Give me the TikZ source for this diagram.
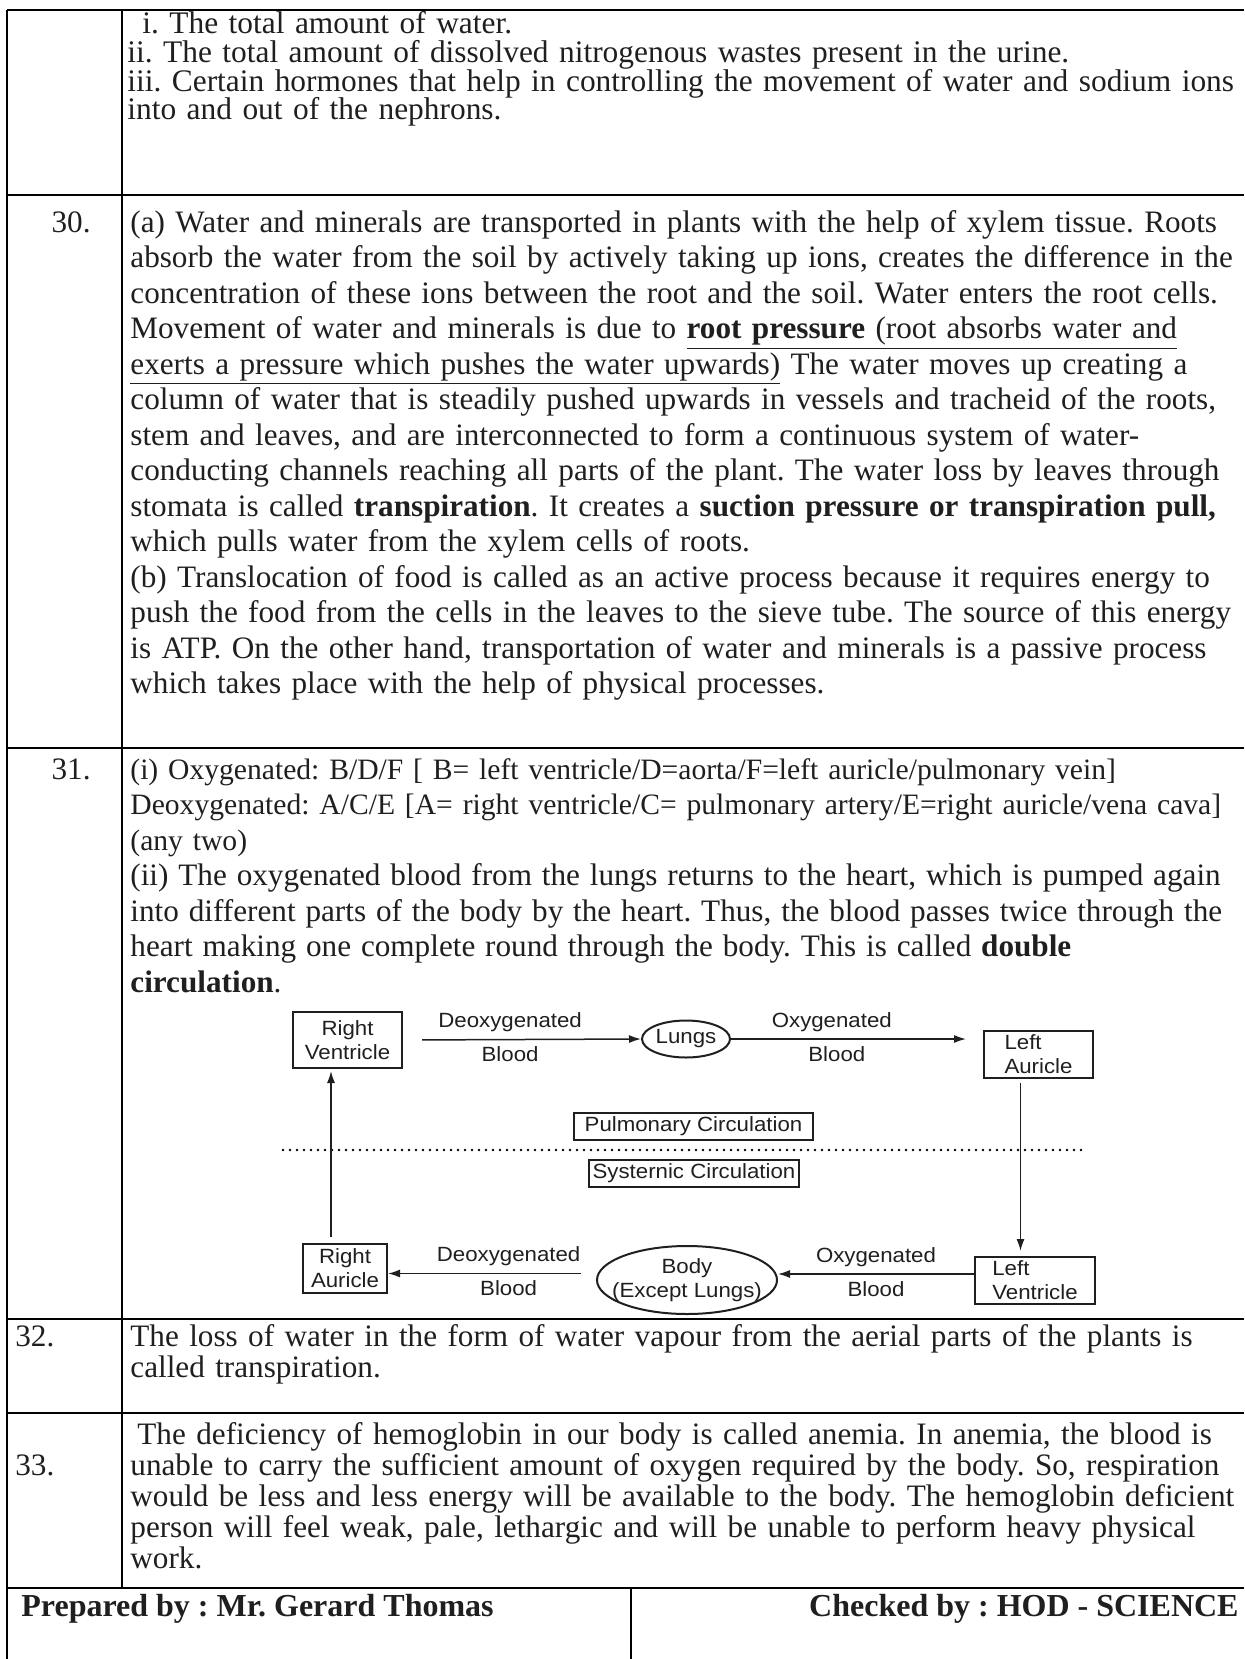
\documentclass[tikz,border=0pt]{standalone}
\usepackage{fontspec}
\setmainfont{Liberation Serif}
\newfontfamily\diagfont[FakeStretch=1.08]{Liberation Sans}
\usepackage{tikz}
\usetikzlibrary{shapes.geometric, arrows.meta, positioning}
\definecolor{InkGray}{HTML}{1F1F1F}

\begin{document}
\frenchspacing
\begin{tikzpicture}[x=0.5pt, y=-0.5pt,
    every node/.style={text=InkGray},
    para/.style={anchor=base west, inner sep=0pt, text width=600pt, align=left},
    qnum/.style={inner sep=0pt, font={\fontsize{15.6}{18}\selectfont}},
    hrule/.style={line width=1.3pt},
    vrule/.style={line width=1pt},
    box/.style={draw=InkGray, line width=1pt, inner sep=0pt, align=center,
                font={\diagfont\fontsize{10.3}{12}\selectfont}},
    tag/.style={font={\diagfont\fontsize{10.3}{12}\selectfont}},
    arr/.style={draw=InkGray, line width=0.75pt, -{Latex[length=6pt,width=4pt]}}]
    \useasboundingbox (0,0) rectangle (1244,1659);

    % table rules
    \draw[hrule] (7,10) -- (1244,10);
    \draw[hrule] (7,195) -- (1244,195);
    \draw[hrule] (7,748) -- (1244,748);
    \draw[hrule] (7,1319) -- (1244,1319);
    \draw[hrule] (7,1413) -- (1244,1413);
    \draw[hrule] (7,1588) -- (1244,1588);
    \draw[vrule] (7,10) -- (7,1659);
    \draw[vrule] (122,10) -- (122,1588);
    \draw[vrule] (631,1588) -- (631,1659);

    % row 29 (continued)
    \node[para, font={\fontsize{15.7}{14.3}\selectfont\lineskiplimit=-100pt\lineskip=0pt}] (ansA) at (127,34) {
        \hspace*{7.5pt}i. The total amount of water.\\
        ii. The total amount of dissolved nitrogenous wastes present in the urine.\\
        iii. Certain hormones that help in controlling the movement of water and sodium ions\\
        into and out of the nephrons.};

    % row 30
    \node[qnum, anchor=base east] (numB) at (91,232) {30.};
    \node[para, font={\fontsize{15.6}{17.75}\selectfont}] (ansB) at (130,232) {
        (a) Water and minerals are transported in plants with the help of xylem tissue. Roots\\
        absorb the water from the soil by actively taking up ions, creates the difference in the\\
        concentration of these ions between the root and the soil. Water enters the root cells.\\
        Movement of water and minerals is due to \underline{\textbf{root pressure} (root absorbs water and}\\
        \underline{exerts a pressure which pushes the water upwards)} The water moves up creating a\\
        column of water that is steadily pushed upwards in vessels and tracheid of the roots,\\
        stem and leaves, and are interconnected to form a continuous system of water-\\
        conducting channels reaching all parts of the plant. The water loss by leaves through\\
        stomata is called \textbf{transpiration}. It creates a \textbf{suction pressure or transpiration pull,}\\
        which pulls water from the xylem cells of roots.\\
        (b) Translocation of food is called as an active process because it requires energy to\\
        push the food from the cells in the leaves to the sieve tube. The source of this energy\\
        is ATP. On the other hand, transportation of water and minerals is a passive process\\
        which takes place with the help of physical processes.};

    % row 31
    \node[qnum, anchor=base east] (numC) at (91,779) {31.};
    \node[para, font={\fontsize{14.8}{17.75}\selectfont}] (ansC) at (130,779) {
        (i) Oxygenated: B/D/F [ B= left ventricle/D=aorta/F=left auricle/pulmonary vein]\\
        Deoxygenated: A/C/E [A= right ventricle/C= pulmonary artery/E=right auricle/vena cava]\\
        (any two)\\
        \fontsize{15.6}{17.75}\selectfont
        (ii) The oxygenated blood from the lungs returns to the heart, which is pumped again\\
        into different parts of the body by the heart. Thus, the blood passes twice through the\\
        heart making one complete round through the body. This is called \textbf{double}\\
        \textbf{circulation}.};

    % circulation chart
    \node[box, minimum width=54.5pt, minimum height=28pt] (rv) at (347.5,1040) {Right\\Ventricle};
    \node[box, ellipse, minimum width=44pt, minimum height=18.5pt] (lungs) at (686,1039) {Lungs};
    \node[box, minimum width=54.5pt, minimum height=23.5pt, align=left] (la) at (1038.5,1054.5) {Left\\Auricle};
    \node[box, minimum width=119.5pt, minimum height=13.5pt] (pulm) at (693.5,1126.5) {Pulmonary Circulation};
    \node[box, minimum width=105pt, minimum height=13.5pt] (syst) at (694,1173.5) {Systernic Circulation};
    \node[box, minimum width=60pt, minimum height=23.5pt, align=left] (lv) at (1035,1280.5) {Left\\Ventricle};
    \node[box, ellipse, minimum width=90pt, minimum height=34pt] (body) at (687,1280) {};
    \node[tag, align=center] (bodytxt) at (body.center) {Body\\(Except Lungs)};
    \node[box, minimum width=42pt, minimum height=24.5pt] (ra) at (345,1268.5) {Right\\Auricle};
    \coordinate (dotL) at (283,1150);
    \coordinate (dotR) at (1086,1150);

    \draw[line width=1.3pt, line cap=round, dash pattern=on 0pt off 3.5pt] (dotL) -- (dotR);
    \draw[arr, shorten <=9.5pt] (rv.east) -- node[tag, above, pos=0.45] {Deoxygenated}
        node[tag, below, pos=0.45] {Blood} (lungs.west);
    \draw[arr, shorten >=8.5pt] (lungs.east) -- node[tag, above, pos=0.4] {Oxygenated}
        node[tag, below, pos=0.42] {Blood} (lungs.east -| la.west);
    \draw[arr, shorten <=2pt, shorten >=2.5pt] ([xshift=-9pt]la.south) -- ([xshift=-9pt]la.south |- lv.north);
    \draw[arr] ([yshift=3.25pt]lv.west) -- node[tag, above] {Oxygenated}
        node[tag, below] {Blood} ([yshift=3.25pt]lv.west -| body.east);
    \draw[arr, shorten <=7.5pt] ([yshift=3.25pt]body.west) -- node[tag, above, pos=0.42] {Deoxygenated}
        node[tag, below, pos=0.42] {Blood} ([yshift=3.25pt]body.west -| ra.east);
    \draw[arr, shorten <=3pt, shorten >=1pt] ([xshift=-7pt]ra.north) -- ([xshift=-7pt]ra.north |- rv.south);

    % row 32
    \node[qnum, anchor=base west] (numD) at (15,1346) {32.};
    \node[para, font={\fontsize{15.6}{15.5}\selectfont}] (ansD) at (130,1346) {
        The loss of water in the form of water vapour from the aerial parts of the plants is\\
        called transpiration.};

    % row 33
    \node[qnum, anchor=base west] (numE) at (15,1475) {33.};
    \node[para, font={\fontsize{15.6}{15.5}\selectfont}] (ansE) at (130,1444) {
        \hspace*{3.5pt}The deficiency of hemoglobin in our body is called anemia. In anemia, the blood is\\
        unable to carry the sufficient amount of oxygen required by the body. So, respiration\\
        would be less and less energy will be available to the body. The hemoglobin deficient\\
        person will feel weak, pale, lethargic and will be unable to perform heavy physical\\
        work.};

    % footer
    \node[qnum, anchor=base west, font={\fontsize{16}{18}\selectfont\bfseries}] (prep) at (21,1616) {Prepared by : Mr. Gerard Thomas};
    \node[qnum, anchor=base east, font={\fontsize{16}{18}\selectfont\bfseries}] (check) at (1239,1616) {Checked by : HOD - SCIENCE};
\end{tikzpicture}
\end{document}
